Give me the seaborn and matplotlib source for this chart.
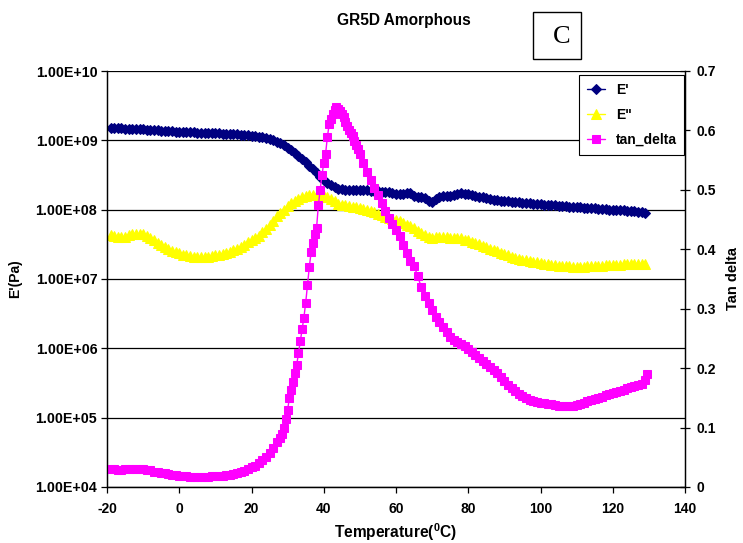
import matplotlib
matplotlib.use("Agg")
import matplotlib.pyplot as plt
from matplotlib.patches import Rectangle
from matplotlib.ticker import FixedLocator, FuncFormatter, NullLocator
import seaborn as sns
import pandas as pd

# Temperature sweep (deg C) shared by the two moduli
temperature = list(range(-19, 130))

# Storage modulus E' (Pa)
storage_modulus = [
    1.50e9, 1.50e9, 1.49e9, 1.49e9, 1.48e9, 1.47e9, 1.47e9, 1.46e9, 1.45e9, 1.44e9,
    1.43e9, 1.42e9, 1.41e9, 1.40e9, 1.38e9, 1.37e9, 1.36e9, 1.35e9, 1.34e9, 1.33e9,
    1.32e9, 1.31e9, 1.30e9, 1.30e9, 1.29e9, 1.28e9, 1.28e9, 1.27e9, 1.27e9, 1.26e9,
    1.26e9, 1.25e9, 1.24e9, 1.24e9, 1.23e9, 1.22e9, 1.21e9, 1.20e9, 1.18e9, 1.17e9,
    1.15e9, 1.13e9, 1.10e9, 1.07e9, 1.04e9, 1.00e9, 9.6e8, 9.1e8, 8.5e8, 7.8e8,
    7.2e8, 6.5e8, 5.9e8, 5.3e8, 4.8e8, 4.3e8, 3.8e8, 3.4e8, 3.0e8, 2.7e8,
    2.45e8, 2.25e8, 2.1e8, 2.0e8, 1.96e8, 1.94e8, 1.93e8, 1.93e8, 1.92e8, 1.92e8,
    1.91e8, 1.90e8, 1.88e8, 1.86e8, 1.84e8, 1.82e8, 1.80e8, 1.77e8, 1.73e8, 1.70e8,
    1.67e8, 1.68e8, 1.74e8, 1.72e8, 1.58e8, 1.52e8, 1.50e8, 1.45e8, 1.35e8, 1.28e8,
    1.42e8, 1.52e8, 1.55e8, 1.58e8, 1.60e8, 1.65e8, 1.70e8, 1.72e8, 1.68e8, 1.66e8,
    1.62e8, 1.58e8, 1.54e8, 1.50e8, 1.46e8, 1.43e8, 1.40e8, 1.37e8, 1.35e8, 1.33e8,
    1.32e8, 1.30e8, 1.29e8, 1.27e8, 1.26e8, 1.24e8, 1.23e8, 1.21e8, 1.20e8, 1.19e8,
    1.18e8, 1.17e8, 1.16e8, 1.15e8, 1.14e8, 1.13e8, 1.12e8, 1.11e8, 1.10e8, 1.09e8,
    1.08e8, 1.07e8, 1.06e8, 1.05e8, 1.04e8, 1.03e8, 1.02e8, 1.01e8, 1.00e8, 9.95e7,
    9.9e7, 9.85e7, 9.8e7, 9.7e7, 9.6e7, 9.5e7, 9.4e7, 9.3e7, 9.0e7,
]

# Loss modulus E'' (Pa)
loss_modulus = [
    4.3e7, 4.2e7, 4.0e7, 4.0e7, 4.1e7, 4.3e7, 4.4e7, 4.5e7, 4.5e7, 4.4e7,
    4.2e7, 3.9e7, 3.6e7, 3.3e7, 3.1e7, 2.9e7, 2.7e7, 2.55e7, 2.45e7, 2.35e7,
    2.25e7, 2.2e7, 2.15e7, 2.1e7, 2.1e7, 2.1e7, 2.1e7, 2.1e7, 2.15e7, 2.2e7,
    2.25e7, 2.3e7, 2.35e7, 2.45e7, 2.6e7, 2.75e7, 2.9e7, 3.1e7, 3.4e7, 3.7e7,
    3.9e7, 4.2e7, 4.7e7, 5.3e7, 6.0e7, 6.8e7, 8.0e7, 9.0e7, 1.0e8, 1.12e8,
    1.23e8, 1.33e8, 1.42e8, 1.50e8, 1.56e8, 1.62e8, 1.64e8, 1.64e8, 1.62e8, 1.57e8,
    1.50e8, 1.42e8, 1.35e8, 1.22e8, 1.18e8, 1.15e8, 1.13e8, 1.11e8, 1.08e8, 1.05e8,
    1.02e8, 9.9e7, 9.6e7, 9.3e7, 8.8e7, 8.3e7, 7.9e7, 7.6e7, 7.4e7, 7.1e7,
    6.8e7, 6.5e7, 6.1e7, 5.8e7, 5.5e7, 5.0e7, 4.6e7, 4.3e7, 4.0e7, 3.9e7,
    4.0e7, 4.05e7, 4.05e7, 4.0e7, 3.95e7, 3.9e7, 3.9e7, 3.85e7, 3.7e7, 3.6e7,
    3.45e7, 3.3e7, 3.15e7, 3.0e7, 2.85e7, 2.7e7, 2.6e7, 2.5e7, 2.4e7, 2.3e7,
    2.2e7, 2.1e7, 2.02e7, 1.96e7, 1.9e7, 1.85e7, 1.8e7, 1.76e7, 1.73e7, 1.70e7,
    1.67e7, 1.64e7, 1.61e7, 1.58e7, 1.56e7, 1.54e7, 1.53e7, 1.52e7, 1.51e7, 1.51e7,
    1.51e7, 1.51e7, 1.52e7, 1.53e7, 1.54e7, 1.55e7, 1.56e7, 1.57e7, 1.58e7, 1.59e7,
    1.60e7, 1.61e7, 1.62e7, 1.63e7, 1.64e7, 1.64e7, 1.65e7, 1.65e7, 1.66e7,
]

# tan delta, sampled more finely through the glass transition
temperature_tan = (
    list(range(-19, 28))
    + [28, 28.5, 29, 29.5, 30, 30.5, 31, 31.5, 32, 32.5, 33, 33.5, 34, 34.5,
       35, 35.5, 36, 36.5, 37, 37.5, 38, 38.5, 39, 39.5, 40, 40.5, 41, 41.5,
       42, 42.5, 43, 43.5, 44, 44.5, 45, 45.5, 46, 46.5, 47, 47.5, 48, 48.5,
       49, 49.5]
    + list(range(50, 130))
    + [129.5]
)
tan_delta = [
    0.030, 0.030, 0.029, 0.029, 0.030, 0.031, 0.031, 0.031, 0.031, 0.030,
    0.029, 0.028, 0.026, 0.025, 0.024, 0.023, 0.022, 0.021, 0.020, 0.019,
    0.018, 0.018, 0.017, 0.017, 0.017, 0.017, 0.017, 0.017, 0.018, 0.018,
    0.019, 0.019, 0.020, 0.021, 0.022, 0.023, 0.025, 0.027, 0.030, 0.033,
    0.036, 0.040, 0.045, 0.051, 0.058, 0.066, 0.076,
    0.082, 0.090, 0.100, 0.115, 0.130, 0.150, 0.163, 0.177, 0.192, 0.205,
    0.225, 0.245, 0.266, 0.285, 0.310, 0.340, 0.370, 0.395, 0.410, 0.425,
    0.435, 0.474, 0.500, 0.525, 0.545, 0.560, 0.589, 0.610, 0.620, 0.628,
    0.634, 0.640, 0.636, 0.632, 0.628, 0.623, 0.615, 0.608, 0.600, 0.595,
    0.590, 0.582, 0.575, 0.568,
    0.560, 0.545, 0.530, 0.516, 0.503, 0.491, 0.478, 0.465, 0.453, 0.442,
    0.432, 0.422, 0.407, 0.393, 0.381, 0.372, 0.355, 0.336, 0.322, 0.309,
    0.297, 0.286, 0.277, 0.269, 0.260, 0.253, 0.248, 0.244, 0.240, 0.237,
    0.233, 0.228, 0.222, 0.217, 0.212, 0.207, 0.202, 0.197, 0.191, 0.185,
    0.179, 0.172, 0.166, 0.161, 0.157, 0.153, 0.149, 0.146, 0.145, 0.143,
    0.142, 0.141, 0.140, 0.139, 0.138, 0.137, 0.137, 0.136, 0.136, 0.136,
    0.138, 0.140, 0.142, 0.144, 0.146, 0.148, 0.150, 0.152, 0.154, 0.156,
    0.158, 0.160, 0.162, 0.164, 0.166, 0.168, 0.170, 0.172, 0.174, 0.180,
    0.190,
]

x_ticks = [-20, 0, 20, 40, 60, 80, 100, 120, 140]
modulus_ticks = [1e4, 1e5, 1e6, 1e7, 1e8, 1e9, 1e10]
tan_ticks = [0, 0.1, 0.2, 0.3, 0.4, 0.5, 0.6, 0.7]

moduli = pd.DataFrame({"T": temperature, "E1": storage_modulus, "E2": loss_modulus})
damping = pd.DataFrame({"T": temperature_tan, "tan": tan_delta})

sns.set_theme(style="white")
plt.rcParams["font.family"] = ["Liberation Sans", "DejaVu Sans"]
plt.rcParams["font.weight"] = "bold"
plt.rcParams["axes.unicode_minus"] = False
plt.rcParams["mathtext.fontset"] = "custom"
plt.rcParams["mathtext.rm"] = "Liberation Sans:bold"
plt.rcParams["mathtext.bf"] = "Liberation Sans:bold"
for key in ("text.color", "axes.labelcolor", "xtick.color", "ytick.color",
            "xtick.labelcolor", "ytick.labelcolor"):
    plt.rcParams[key] = "black"

fig = plt.figure(figsize=(7.43, 5.43), dpi=100)
ax = fig.add_axes([107 / 743, 1 - 487 / 543, 578 / 743, 416 / 543])
ax2 = ax.twinx()

sns.lineplot(data=moduli, x="T", y="E1", ax=ax, color="#000080", marker="D",
             markersize=5.2, markeredgecolor="#000080", linewidth=1.0,
             label="E'", legend=False)
sns.lineplot(data=moduli, x="T", y="E2", ax=ax, color="#FFFF00", marker="^",
             markersize=6.5, markeredgecolor="#FFFF00", linewidth=1.0,
             label="E\"", legend=False)
sns.lineplot(data=damping, x="T", y="tan", ax=ax2, color="#FF00FF", marker="s",
             markersize=5.2, markeredgecolor="#FF00FF", linewidth=1.0,
             label="tan_delta", legend=False)

ax.set_yscale("log")
ax.set_xlim(-20, 140)
ax.set_ylim(1e4, 1e10)
ax2.set_ylim(0, 0.7)

ax.xaxis.set_major_locator(FixedLocator(x_ticks))
ax.yaxis.set_major_locator(FixedLocator(modulus_ticks))
ax.yaxis.set_minor_locator(NullLocator())
ax.yaxis.set_major_formatter(FuncFormatter(lambda v, _: "{:.2E}".format(v)))
ax2.yaxis.set_major_locator(FixedLocator(tan_ticks))
ax2.yaxis.set_major_formatter(FuncFormatter(lambda v, _: "{:g}".format(round(v, 1))))

ax.yaxis.grid(True, which="major", color="black", linewidth=0.9)
ax.xaxis.grid(False)
ax2.grid(False)

for a in (ax, ax2):
    for s in a.spines.values():
        s.set_color("black")
        s.set_linewidth(0.9)
ax.spines["top"].set_visible(False)
ax2.spines["top"].set_visible(False)

ax.tick_params(axis="x", direction="out", length=4, width=0.9, color="black",
               labelsize=10, pad=7, bottom=True)
ax.tick_params(axis="y", direction="out", length=4, width=0.9, color="black",
               labelsize=10.3, pad=3, left=True)
ax2.tick_params(axis="y", direction="inout", length=7, width=0.9, color="black",
                labelsize=10, pad=5, right=True)
for lab in ax.get_xticklabels() + ax.get_yticklabels() + ax2.get_yticklabels():
    lab.set_fontweight("bold")

ax.set_xlabel(r"Temperature($^{\mathbf{0}}$C)", fontsize=11.2, fontweight="bold",
              va="center")
ax.xaxis.set_label_coords(0.5, -0.108)
ax.set_ylabel("E'(Pa)", fontsize=10, fontweight="bold", va="center", ha="center")
ax.yaxis.set_label_coords(-0.159, 0.5)
ax2.set_ylabel("Tan delta", fontsize=10.5, fontweight="bold", va="center",
               ha="center")
ax2.yaxis.set_label_coords(1.083, 0.5)

fig.text(404 / 743, 1 - 20 / 543, "GR5D Amorphous", ha="center", va="center",
         fontsize=11.2, fontweight="bold")

fig.patches.append(Rectangle((532.7 / 743, 1 - 59.3 / 543), 48.3 / 743, 47.6 / 543,
                             transform=fig.transFigure, fill=False,
                             edgecolor="black", linewidth=1.0))
fig.text(562 / 743, 1 - 37 / 543, "C", ha="center", va="center",
         fontsize=19, family="Liberation Serif", fontweight="normal")

handles = ax.get_lines()[:2] + ax2.get_lines()[:1]
leg = fig.legend(handles, ["E'", "E\"", "tan_delta"], loc="upper left",
                 bbox_to_anchor=(579 / 743, 1 - 75 / 543), borderaxespad=0,
                 frameon=True, fancybox=False, edgecolor="black", framealpha=1,
                 fontsize=10, handlelength=1.35, handletextpad=0.75,
                 labelspacing=0.8, borderpad=0.55, numpoints=1)
leg.get_frame().set_linewidth(0.8)
for t in leg.get_texts():
    t.set_fontweight("bold")

fig.savefig("out.png", dpi=100)
